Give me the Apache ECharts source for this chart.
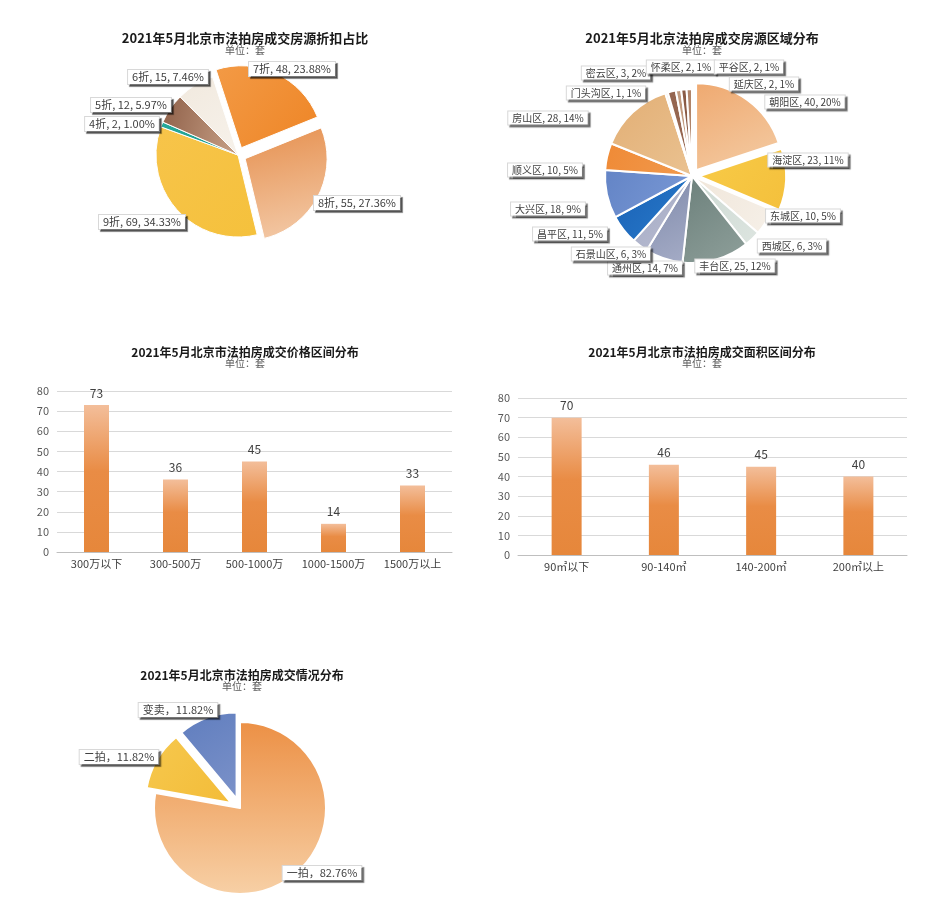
<!DOCTYPE html>
<html><head><meta charset="utf-8">
<script src="https://cdn.jsdelivr.net/npm/echarts@6/dist/echarts.min.js"></script>
<style>html,body{margin:0;padding:0;background:#fff}#c{width:941px;height:918px}</style>
</head><body><div id="c"></div>
<script>
// ---- data ----
const discountCats = ['7折','8折','9折','4折','5折','6折'];
const discountVals = [48, 55, 69, 2, 12, 15];
const discountExploded = ['7折','8折'];

const districtCats = ['朝阳区','海淀区','东城区','西城区','丰台区','通州区','石景山区','昌平区','大兴区','顺义区','房山区','门头沟区','密云区','怀柔区','平谷区','延庆区'];
const districtVals = [40, 23, 10, 6, 25, 14, 6, 11, 18, 10, 28, 1, 3, 2, 2, 2];
const districtPct  = [20, 11, 5, 3, 12, 7, 3, 5, 9, 5, 14, 1, 2, 1, 1, 1];
const districtExploded = ['朝阳区','海淀区'];

const priceCats = ['300万以下','300-500万','500-1000万','1000-1500万','1500万以上'];
const priceVals = [73, 36, 45, 14, 33];

const areaCats = ['90㎡以下','90-140㎡','140-200㎡','200㎡以上'];
const areaVals = [70, 46, 45, 40];

const statusCats = ['一拍','二拍','变卖'];
const statusPct  = [82.76, 11.82, 11.82];
const statusExploded = ['二拍','变卖'];

const titles = [
  ['2021年5月北京市法拍房成交房源折扣占比', 240, 27, 13],
  ['2021年5月北京法拍房成交房源区域分布', 697, 27, 13],
  ['2021年5月北京市法拍房成交价格区间分布', 240, 341, 12],
  ['2021年5月北京市法拍房成交面积区间分布', 697, 341, 12],
  ['2021年5月北京市法拍房成交情况分布', 237, 664, 12]
];
const unitText = '单位：套';

// ---- label placement (layout, text centres) ----
const discountLabelPos = [[292, 69], [357, 203], [142, 222], [122, 124], [131, 105], [168, 77]];
const districtLabelPos = [[805, 102], [808, 160], [803, 216], [792, 246], [735, 266], [645, 268],
  [611, 254], [570, 234], [548, 209], [545, 170], [548, 118], [606, 93], [616, 73], [681, 67], [749, 67], [764, 84]];
const statusLabelPos = [[322, 873], [119, 757], [178, 710]];

// ---- styles ----
const FONT = '"Noto Sans CJK SC", "Noto Sans", sans-serif';
function lg(c1, c2, x2, y2) {
  return new echarts.graphic.LinearGradient(0, 0, x2 === undefined ? 1 : x2, y2 === undefined ? 1 : y2,
    [{offset: 0, color: c1}, {offset: 1, color: c2}]);
}
const discountColors = [lg('#F39A45','#EE8526'), lg('#E6904F','#F2C6A2',0.3,1), lg('#F7C44A','#F5C13C'),
  lg('#25A99B','#1C9A8E'), lg('#8F6049','#C29A80',1,0.3), lg('#F1E9DE','#F7F2EB')];
const districtColors = [lg('#EFA970','#F3C79D',0.5,1), lg('#F8CB47','#F4C03C'), lg('#F0E6DA','#F6F0E8'),
  lg('#CCD8D2','#DDE5E0'), lg('#6B7F7A','#8FA09B'), lg('#7E89AA','#A6ADC7'), lg('#A2A8C2','#B9BDD2'),
  lg('#1960B5','#2A7CCB'), lg('#6384C6','#7B9AD6'), lg('#EF8A36','#F19A4E'), lg('#E2AE74','#EAC291'),
  '#F4EEE6', '#956650', '#C29B7F', '#8A5B45', '#B08469'];
const statusColors = [lg('#EC9045','#F7D0A6',0,1), lg('#F6C84E','#F3BC38'), lg('#5F7DBE','#7C92C9')];

const labelBox = {
  color: '#404040', fontSize: 11, fontFamily: FONT,
  backgroundColor: '#fff', borderColor: '#D8D8D8', borderWidth: 1,
  padding: [2, 4, 1, 4],
  shadowColor: 'rgba(0,0,0,0.45)', shadowOffsetX: 2, shadowOffsetY: 2, shadowBlur: 1
};

function placeLabels(table) {
  return function (params) {
    const p = table[params.dataIndex];
    if (!p) return {};
    return {x: p[0], y: p[1], align: 'center', verticalAlign: 'middle'};
  };
}

// a pie drawn twice: slices (with exploded pieces) and a transparent copy carrying the labels
function pieWithLabels(cfg) {
  const base = {type: 'pie', center: cfg.center, radius: cfg.radius, startAngle: cfg.startAngle,
    clockwise: true, avoidLabelOverlap: false, emphasis: {disabled: true}, animation: false};
  const slices = Object.assign({}, base, {
    selectedMode: 'multiple', selectedOffset: cfg.offset,
    itemStyle: {borderColor: '#fff', borderWidth: cfg.border},
    label: {show: false}, labelLine: {show: false},
    data: cfg.cats.map((c, i) => ({
      name: c, value: cfg.vals[i], selected: cfg.exploded.includes(c),
      itemStyle: {color: cfg.colors[i]}
    }))
  });
  const labels = Object.assign({}, base, {
    silent: true, z: 5,
    itemStyle: {color: 'rgba(0,0,0,0)', borderWidth: 0},
    label: Object.assign({formatter: cfg.formatter}, labelBox, {fontSize: cfg.fontSize}),
    labelLine: {show: false, length: 8, length2: 4},
    labelLayout: placeLabels(cfg.labelPos),
    data: cfg.cats.map((c, i) => ({name: c, value: cfg.vals[i]}))
  });
  return [slices, labels];
}

const discountTotal = discountVals.reduce((a, b) => a + b, 0);

const titleArr = titles.map(t => ({
  text: t[0], left: t[1], top: t[2], textAlign: 'center',
  textStyle: {fontSize: t[3], fontWeight: 'bold', color: '#1a1a1a', fontFamily: FONT},
  subtext: unitText, itemGap: 0,
  subtextStyle: {fontSize: 10, color: '#595959', fontFamily: FONT}
}));

function barGradient() {
  return new echarts.graphic.LinearGradient(0, 0, 0, 1, [
    {offset: 0, color: '#F3BE9A'}, {offset: 0.45, color: '#E98C45'}, {offset: 1, color: '#E6873B'}]);
}

const yAxisBase = {
  type: 'value', min: 0, max: 80, interval: 10,
  axisLine: {show: false}, axisTick: {show: false},
  axisLabel: {color: '#595959', fontSize: 11, fontFamily: FONT, margin: 8},
  splitLine: {lineStyle: {color: '#D9D9D9', width: 1}}
};
const xAxisBase = {
  type: 'category',
  axisLine: {lineStyle: {color: '#BFBFBF'}}, axisTick: {show: false},
  axisLabel: {color: '#404040', fontSize: 11, fontFamily: FONT, margin: 6, interval: 0}
};
const barLabel = {show: true, position: 'top', color: '#404040', fontSize: 12, fontFamily: FONT, distance: 6};

const series = []
  .concat(pieWithLabels({
    center: [238, 155], radius: 82, startAngle: 108, offset: 8, border: 1, fontSize: 11,
    cats: discountCats, vals: discountVals, exploded: discountExploded, colors: discountColors,
    labelPos: discountLabelPos,
    formatter: p => p.name + ', ' + p.value + ', ' + (p.value / discountTotal * 100).toFixed(2) + '%'
  }))
  .concat(pieWithLabels({
    center: [692, 176], radius: 87, startAngle: 90, offset: 7, border: 2, fontSize: 10,
    cats: districtCats, vals: districtVals, exploded: districtExploded, colors: districtColors,
    labelPos: districtLabelPos,
    formatter: p => p.name + ', ' + p.value + ', ' + districtPct[p.dataIndex] + '%'
  }))
  .concat(pieWithLabels({
    center: [240, 808], radius: 86, startAngle: 90, offset: 10, border: 2, fontSize: 11,
    cats: statusCats, vals: statusPct, exploded: statusExploded, colors: statusColors,
    labelPos: statusLabelPos,
    formatter: p => p.name + '，' + statusPct[p.dataIndex].toFixed(2) + '%'
  }))
  .concat([
    {type: 'bar', xAxisIndex: 0, yAxisIndex: 0, barWidth: 25,
      itemStyle: {color: barGradient()}, label: barLabel, data: priceVals},
    {type: 'bar', xAxisIndex: 1, yAxisIndex: 1, barWidth: 30,
      itemStyle: {color: barGradient()}, label: barLabel, data: areaVals}
  ]);

const option = {
  backgroundColor: '#fff',
  animation: false,
  title: titleArr,
  grid: [
    {left: 57, width: 395, top: 391, height: 161},
    {left: 518, width: 389, top: 398, height: 157}
  ],
  xAxis: [
    Object.assign({gridIndex: 0, data: priceCats}, xAxisBase),
    Object.assign({gridIndex: 1, data: areaCats}, xAxisBase)
  ],
  yAxis: [
    Object.assign({gridIndex: 0}, yAxisBase),
    Object.assign({gridIndex: 1}, yAxisBase)
  ],
  series: series
};

const chart = echarts.init(document.getElementById('c'), null, {renderer: 'canvas'});
chart.setOption(option);
</script>
</body></html>
